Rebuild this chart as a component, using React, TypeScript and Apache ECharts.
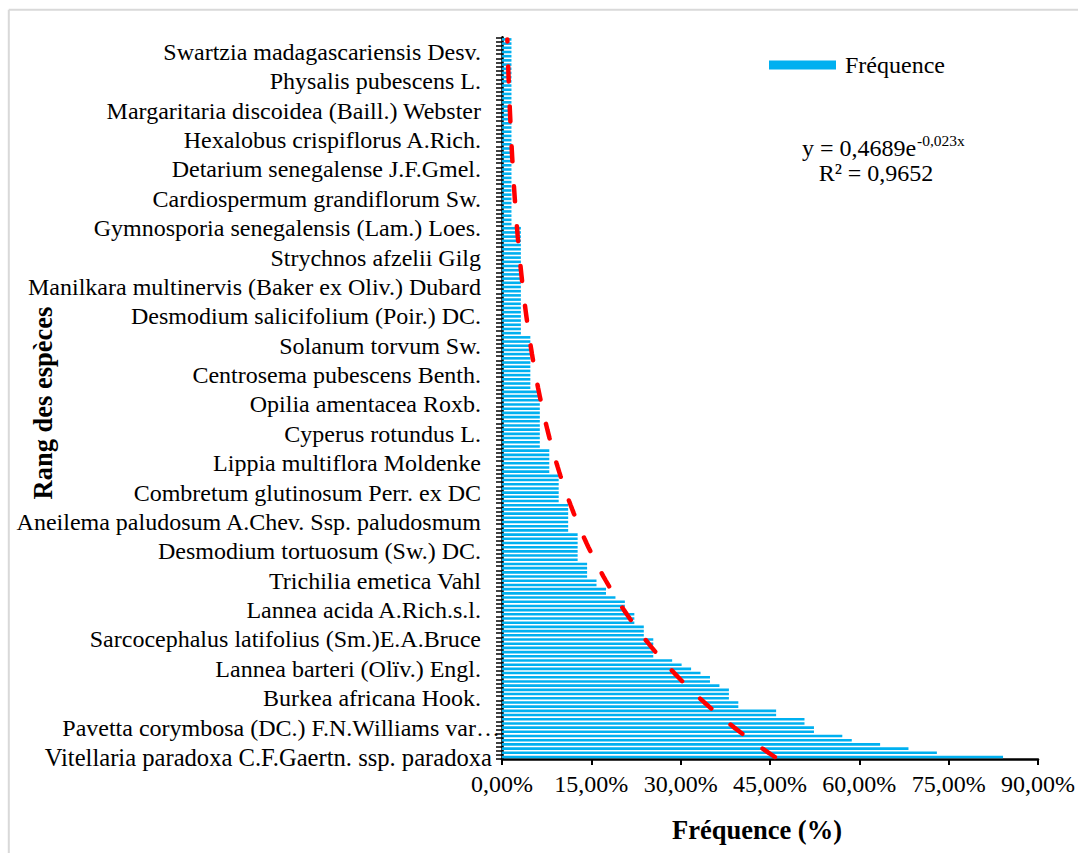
import React, { useEffect, useRef } from "react";
import * as echarts from "echarts";

// Frequency (%) of each species, from rank 1 (bottom) to rank 172 (top)
const frequence: number[] = [
  84.13, 73.02, 68.25, 63.49, 58.73, 57.14, 52.38, 52.38, 50.79, 50.79,
  46.03, 46.03, 39.68, 39.68, 38.10, 38.10, 38.10, 36.51, 34.92, 34.92,
  33.33, 31.75, 30.16, 28.57, 25.40, 25.40, 25.40, 25.40, 25.40, 23.81,
  23.81, 23.81, 22.22, 22.22, 22.22, 20.63, 20.63, 20.63, 19.05, 17.46,
  17.46, 15.87, 15.87, 14.29, 14.29, 14.29, 14.29, 12.70, 12.70, 12.70,
  12.70, 12.70, 12.70, 12.70, 11.11, 11.11, 11.11, 11.11, 11.11, 11.11,
  11.11, 9.52, 9.52, 9.52, 9.52, 9.52, 9.52, 9.52, 7.94, 7.94,
  7.94, 7.94, 7.94, 7.94, 6.35, 6.35, 6.35, 6.35, 6.35, 6.35,
  6.35, 6.35, 6.35, 6.35, 6.35, 6.35, 6.35, 6.35, 4.76, 4.76,
  4.76, 4.76, 4.76, 4.76, 4.76, 4.76, 4.76, 4.76, 4.76, 4.76,
  4.76, 3.17, 3.17, 3.17, 3.17, 3.17, 3.17, 3.17, 3.17, 3.17,
  3.17, 3.17, 3.17, 3.17, 3.17, 3.17, 3.17, 3.17, 3.17, 3.17,
  3.17, 3.17, 3.17, 3.17, 3.17, 3.17, 3.17, 1.59, 1.59, 1.59,
  1.59, 1.59, 1.59, 1.59, 1.59, 1.59, 1.59, 1.59, 1.59, 1.59,
  1.59, 1.59, 1.59, 1.59, 1.59, 1.59, 1.59, 1.59, 1.59, 1.59,
  1.59, 1.59, 1.59, 1.59, 1.59, 1.59, 1.59, 1.59, 1.59, 1.59,
  1.59, 1.59, 1.59, 1.59, 1.59, 1.59, 1.59, 1.59, 1.59, 1.59,
  1.59, 1.59,
];

// Species names shown on the axis (every 7th rank, from rank 1 upward)
const shownSpecies: string[] = [
  "Vitellaria paradoxa C.F.Gaertn. ssp. paradoxa",
  "Pavetta corymbosa (DC.) F.N.Williams var…",
  "Burkea africana Hook.",
  "Lannea barteri (Olïv.) Engl.",
  "Sarcocephalus latifolius (Sm.)E.A.Bruce",
  "Lannea acida A.Rich.s.l.",
  "Trichilia emetica Vahl",
  "Desmodium tortuosum (Sw.) DC.",
  "Aneilema paludosum A.Chev. Ssp. paludosmum",
  "Combretum glutinosum Perr. ex DC",
  "Lippia multiflora Moldenke",
  "Cyperus rotundus L.",
  "Opilia amentacea Roxb.",
  "Centrosema pubescens Benth.",
  "Solanum torvum Sw.",
  "Desmodium salicifolium (Poir.) DC.",
  "Manilkara multinervis (Baker ex Oliv.) Dubard",
  "Strychnos afzelii Gilg",
  "Gymnosporia senegalensis (Lam.) Loes.",
  "Cardiospermum grandiflorum Sw.",
  "Detarium senegalense J.F.Gmel.",
  "Hexalobus crispiflorus A.Rich.",
  "Margaritaria discoidea (Baill.) Webster",
  "Physalis pubescens L.",
  "Swartzia madagascariensis Desv.",
];
const labelStep = 7;

// Exponential trend line shown on the chart: y = 0,4689 e^(-0,023x)
const trendA = 0.4689;
const trendB = -0.023;

const xTicks = { min: 0, max: 90, interval: 15 };

const SERIF = "'Liberation Serif', 'Times New Roman', serif";

export default function App() {
  const ref = useRef<HTMLDivElement>(null);

  useEffect(() => {
    if (!ref.current) return;
    const chart = echarts.init(ref.current, undefined, { renderer: "svg" });

    const categories = frequence.map((_, i) =>
      i % labelStep === 0 && shownSpecies[i / labelStep] !== undefined
        ? shownSpecies[i / labelStep]
        : ""
    );
    const trend = frequence.map((_, i) => trendA * 100 * Math.exp(trendB * (i + 1)));

    chart.setOption({
      animation: false,
      backgroundColor: "#ffffff",
      textStyle: { fontFamily: SERIF },
      grid: { left: 502, top: 37.3, width: 540, height: 721.8, containLabel: false },
      legend: {
        data: ["Fréquence"],
        left: 769,
        top: 53,
        padding: 0,
        itemWidth: 67,
        itemHeight: 9,
        itemGap: 10,
        icon: "rect",
        textStyle: { fontFamily: SERIF, fontSize: 24, color: "#000", padding: [0, 0, 0, 4] },
      },
      xAxis: {
        type: "value",
        min: xTicks.min,
        max: xTicks.max,
        interval: xTicks.interval,
        axisLine: { show: true, lineStyle: { color: "#000", width: 2.5 } },
        axisTick: { show: true, length: 6, lineStyle: { color: "#000", width: 2 } },
        splitLine: { show: false },
        axisLabel: {
          margin: 13,
          fontFamily: SERIF,
          fontSize: 24,
          color: "#000",
          formatter: (v: number) => v.toFixed(2).replace(".", ",") + "%",
        },
      },
      yAxis: {
        type: "category",
        data: categories,
        axisLine: { show: true, lineStyle: { color: "#000", width: 2.5 } },
        axisTick: { show: true, interval: 0, length: 6, lineStyle: { color: "#000", width: 1.5 } },
        splitLine: { show: false },
        axisLabel: {
          interval: labelStep - 1,
          margin: 2,
          fontFamily: SERIF,
          fontSize: 24,
          color: "#000",
          formatter: (v: string) => {
            if (!v) return "";
            if (v === shownSpecies[0]) return `{v|${v}}`;
            if (v === shownSpecies[1]) return `{q|${v}}`;
            return `{p|${v}}`;
          },
          rich: {
            v: { fontFamily: SERIF, fontSize: 24.6, color: "#000", padding: [0, 8, 0, 0] },
            q: { fontFamily: SERIF, fontSize: 24, color: "#000", padding: [0, 0, 0, 0] },
            p: { fontFamily: SERIF, fontSize: 24, color: "#000", padding: [0, 19, 0, 0] },
          },
        },
      },
      series: [
        {
          name: "Fréquence",
          type: "bar",
          data: frequence,
          barWidth: 2.6,
          itemStyle: { color: "#00B0F0" },
        },
        {
          name: "Tendance",
          type: "line",
          data: trend,
          showSymbol: false,
          symbol: "none",
          z: 5,
          lineStyle: { color: "#FF0000", width: 4.5, type: [15, 25], cap: "round" },
        },
      ],
      graphic: [
        {
          type: "line",
          shape: { x1: 8.8, y1: 9.8, x2: 1078, y2: 9.8 },
          style: { stroke: "#D9D9D9", lineWidth: 2 },
          silent: true,
        },
        {
          type: "line",
          shape: { x1: 8.8, y1: 9.8, x2: 8.8, y2: 853 },
          style: { stroke: "#D9D9D9", lineWidth: 2 },
          silent: true,
        },
        {
          type: "text",
          x: 43,
          y: 403,
          rotation: Math.PI / 2,
          style: {
            text: "Rang des espèces",
            fontFamily: SERIF,
            fontSize: 26.5,
            fontWeight: "bold",
            fill: "#000",
            align: "center",
            verticalAlign: "middle",
          },
        },
        {
          type: "text",
          x: 757,
          y: 830,
          style: {
            text: "Fréquence (%)",
            fontFamily: SERIF,
            fontSize: 26.5,
            fontWeight: "bold",
            fill: "#000",
            align: "center",
            verticalAlign: "middle",
          },
        },
        {
          type: "text",
          x: 802,
          y: 148,
          style: {
            text: "y = 0,4689e",
            fontFamily: SERIF,
            fontSize: 24,
            fill: "#000",
            align: "left",
            verticalAlign: "middle",
          },
        },
        {
          type: "text",
          x: 917,
          y: 140,
          style: {
            text: "-0,023x",
            fontFamily: SERIF,
            fontSize: 15.5,
            fill: "#000",
            align: "left",
            verticalAlign: "middle",
          },
        },
        {
          type: "text",
          x: 876,
          y: 173,
          style: {
            text: "R² = 0,9652",
            fontFamily: SERIF,
            fontSize: 24,
            fill: "#000",
            align: "center",
            verticalAlign: "middle",
          },
        },
      ],
    });

    return () => chart.dispose();
  }, []);

  return (
    <div
      ref={ref}
      style={{ position: "absolute", left: 0, top: 0, width: 1078, height: 853, background: "#fff" }}
    />
  );
}
